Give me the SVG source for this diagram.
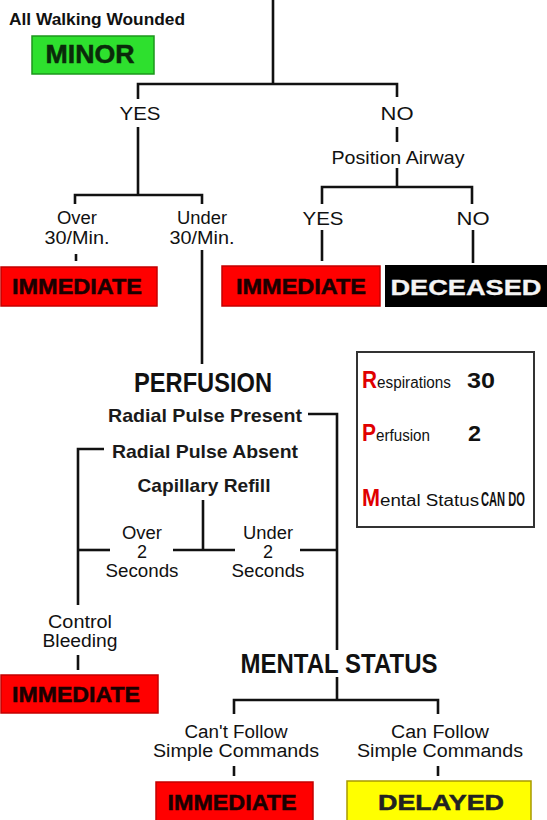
<svg xmlns="http://www.w3.org/2000/svg" width="547" height="820" viewBox="0 0 547 820">
<style>
.bg{fill:#fff}
.ln{fill:none;stroke:#111;stroke-width:2.6;stroke-linecap:butt}
.lbl{font-family:"Liberation Sans",Arial,sans-serif;font-size:19px;fill:#111;text-anchor:middle}
.sm{font-size:18px}
.lblb{font-family:"Liberation Sans",Arial,sans-serif;font-size:19px;font-weight:bold;fill:#1a1a1a;text-anchor:middle}
.box{font-family:"Liberation Sans",Arial,sans-serif;font-size:22px;font-weight:bold;text-anchor:middle;fill:#1a0000;stroke:#1a0000;stroke-width:0.5}
.red{fill:#ff0000;stroke:#c40000;stroke-width:1.5}
.head{font-family:"Liberation Sans",Arial,sans-serif;font-size:28px;font-weight:bold;fill:#111;text-anchor:middle}
.rpmL{font-family:"Liberation Sans",Arial,sans-serif;font-size:24px;font-weight:bold;fill:#e00000}
.rpmS{font-family:"Liberation Sans",Arial,sans-serif;font-size:16px;fill:#111}
.rpmV{font-family:"Liberation Sans",Arial,sans-serif;font-size:22px;font-weight:bold;fill:#111}
</style>
<rect class="bg" x="0" y="0" width="547" height="820"/>

<g id="connectors">
<path class="ln" d="M273,0 V84"/>
<path class="ln" d="M138,99 V84 H397 V97"/>
<path class="ln" d="M397,127 V142"/>
<path class="ln" d="M397,168 V187"/>
<path class="ln" d="M322,204 V187 H472 V204"/>
<path class="ln" d="M138,127 V195"/>
<path class="ln" d="M75,204 V195 H202 V204"/>
<path class="ln" d="M76,254 V261"/>
<path class="ln" d="M202,250 V364"/>
<path class="ln" d="M322,230 V261"/>
<path class="ln" d="M473,230 V263"/>
<path class="ln" d="M308,414 H337 V650"/>
<path class="ln" d="M104,449 H78 V605"/>
<path class="ln" d="M203,500 V550"/>
<path class="ln" d="M78,550 H110"/>
<path class="ln" d="M173,550 H235"/>
<path class="ln" d="M300,550 H337"/>
<path class="ln" d="M78,655 V670"/>
<path class="ln" d="M337,677 V700"/>
<path class="ln" d="M234,714 V700 H438 V714"/>
<path class="ln" d="M234,766 V776"/>
<path class="ln" d="M438,766 V776"/>
</g>

<g id="walking">
<text x="97" y="25" style="font-family:'Liberation Sans',Arial,sans-serif;font-size:17px;font-weight:bold;fill:#111" text-anchor="middle" textLength="176" lengthAdjust="spacingAndGlyphs">All Walking Wounded</text>
</g>
<g id="minor">
<rect x="32" y="36" width="122" height="38" fill="#2ee02e" stroke="#1c961c" stroke-width="1.5"/>
<text class="box" x="90" y="63" style="font-size:25px;fill:#0a2a0a;stroke:#0a2a0a" textLength="89" lengthAdjust="spacingAndGlyphs">MINOR</text>
</g>

<g id="yes1"><text class="lbl" x="140" y="120" textLength="41" lengthAdjust="spacingAndGlyphs">YES</text></g>
<g id="no1"><text class="lbl" x="397" y="120" textLength="33" lengthAdjust="spacingAndGlyphs">NO</text></g>
<g id="position"><text class="lbl" x="398" y="164" textLength="133" lengthAdjust="spacingAndGlyphs">Position Airway</text></g>

<g id="over30">
<text class="lbl sm" x="77" y="224" textLength="40" lengthAdjust="spacingAndGlyphs">Over</text>
<text class="lbl sm" x="77" y="244" textLength="65" lengthAdjust="spacingAndGlyphs">30/Min.</text>
</g>
<g id="under30">
<text class="lbl sm" x="202" y="224" textLength="50" lengthAdjust="spacingAndGlyphs">Under</text>
<text class="lbl sm" x="202" y="244" textLength="65" lengthAdjust="spacingAndGlyphs">30/Min.</text>
</g>
<g id="yes2"><text class="lbl" x="323" y="225" textLength="41" lengthAdjust="spacingAndGlyphs">YES</text></g>
<g id="no2"><text class="lbl" x="473" y="225" textLength="33" lengthAdjust="spacingAndGlyphs">NO</text></g>

<g id="immediate1">
<rect class="red" x="1" y="267" width="156" height="39"/>
<text class="box" x="77" y="294" textLength="130" lengthAdjust="spacingAndGlyphs">IMMEDIATE</text>
</g>
<g id="immediate2">
<rect class="red" x="222" y="266" width="158" height="40"/>
<text class="box" x="301" y="294" textLength="130" lengthAdjust="spacingAndGlyphs">IMMEDIATE</text>
</g>
<g id="deceased">
<rect x="385" y="265" width="162" height="42" fill="#000"/>
<text class="box" x="466" y="295" style="fill:#f4f4f4;stroke:#f4f4f4;stroke-width:0.3" textLength="151" lengthAdjust="spacingAndGlyphs">DECEASED</text>
</g>

<g id="perfusion">
<text class="head" x="203" y="392" textLength="138" lengthAdjust="spacingAndGlyphs">PERFUSION</text>
</g>
<g id="pulse-present"><text class="lblb" x="205" y="422" textLength="194" lengthAdjust="spacingAndGlyphs">Radial Pulse Present</text></g>
<g id="pulse-absent"><text class="lblb" x="205" y="458" textLength="186" lengthAdjust="spacingAndGlyphs">Radial Pulse Absent</text></g>
<g id="capillary"><text class="lblb" x="204" y="492" textLength="133" lengthAdjust="spacingAndGlyphs">Capillary Refill</text></g>

<g id="over2">
<text class="lbl sm" x="142" y="539" textLength="40" lengthAdjust="spacingAndGlyphs">Over</text>
<text class="lbl sm" x="142" y="558">2</text>
<text class="lbl sm" x="142" y="577" textLength="73" lengthAdjust="spacingAndGlyphs">Seconds</text>
</g>
<g id="under2">
<text class="lbl sm" x="268" y="539" textLength="50" lengthAdjust="spacingAndGlyphs">Under</text>
<text class="lbl sm" x="268" y="558">2</text>
<text class="lbl sm" x="268" y="577" textLength="73" lengthAdjust="spacingAndGlyphs">Seconds</text>
</g>

<g id="control">
<text class="lbl sm" x="80" y="628" textLength="64" lengthAdjust="spacingAndGlyphs">Control</text>
<text class="lbl sm" x="80" y="647" textLength="75" lengthAdjust="spacingAndGlyphs">Bleeding</text>
</g>
<g id="immediate3">
<rect class="red" x="1" y="675" width="157" height="38"/>
<text class="box" x="76" y="702" textLength="128" lengthAdjust="spacingAndGlyphs">IMMEDIATE</text>
</g>

<g id="mental">
<text class="head" x="339" y="673" textLength="197" lengthAdjust="spacingAndGlyphs">MENTAL STATUS</text>
</g>
<g id="cant-follow">
<text class="lbl sm" x="236" y="738" textLength="103" lengthAdjust="spacingAndGlyphs">Can't Follow</text>
<text class="lbl sm" x="236" y="757" textLength="166" lengthAdjust="spacingAndGlyphs">Simple Commands</text>
</g>
<g id="can-follow">
<text class="lbl sm" x="440" y="738" textLength="98" lengthAdjust="spacingAndGlyphs">Can Follow</text>
<text class="lbl sm" x="440" y="757" textLength="166" lengthAdjust="spacingAndGlyphs">Simple Commands</text>
</g>
<g id="immediate4">
<rect class="red" x="156" y="782" width="157" height="40"/>
<text class="box" x="232" y="810" textLength="129" lengthAdjust="spacingAndGlyphs">IMMEDIATE</text>
</g>
<g id="delayed">
<rect x="347" y="781" width="184" height="41" fill="#ffff00" stroke="#a89a00" stroke-width="1.5"/>
<text class="box" x="441" y="810" style="fill:#222;stroke:#222" textLength="126" lengthAdjust="spacingAndGlyphs">DELAYED</text>
</g>

<g id="rpm">
<rect x="357" y="352" width="177" height="175" fill="#fff" stroke="#333" stroke-width="2"/>
<text class="rpmL" x="362" y="388" textLength="15" lengthAdjust="spacingAndGlyphs">R</text>
<text class="rpmS" x="377" y="388" textLength="74" lengthAdjust="spacingAndGlyphs">espirations</text>
<text class="rpmV" x="467" y="388" textLength="28" lengthAdjust="spacingAndGlyphs">30</text>
<text class="rpmL" x="362" y="441" textLength="14" lengthAdjust="spacingAndGlyphs">P</text>
<text class="rpmS" x="376" y="441" textLength="54" lengthAdjust="spacingAndGlyphs">erfusion</text>
<text class="rpmV" x="468" y="441" textLength="13" lengthAdjust="spacingAndGlyphs">2</text>
<text class="rpmL" x="362" y="506" textLength="18" lengthAdjust="spacingAndGlyphs">M</text>
<text class="rpmS" x="380" y="506" textLength="99" lengthAdjust="spacingAndGlyphs">ental Status</text>
<text class="rpmV" transform="translate(481,506) scale(0.53,1)" x="0" y="0" style="font-size:21px">CAN DO</text>
</g>
</svg>
